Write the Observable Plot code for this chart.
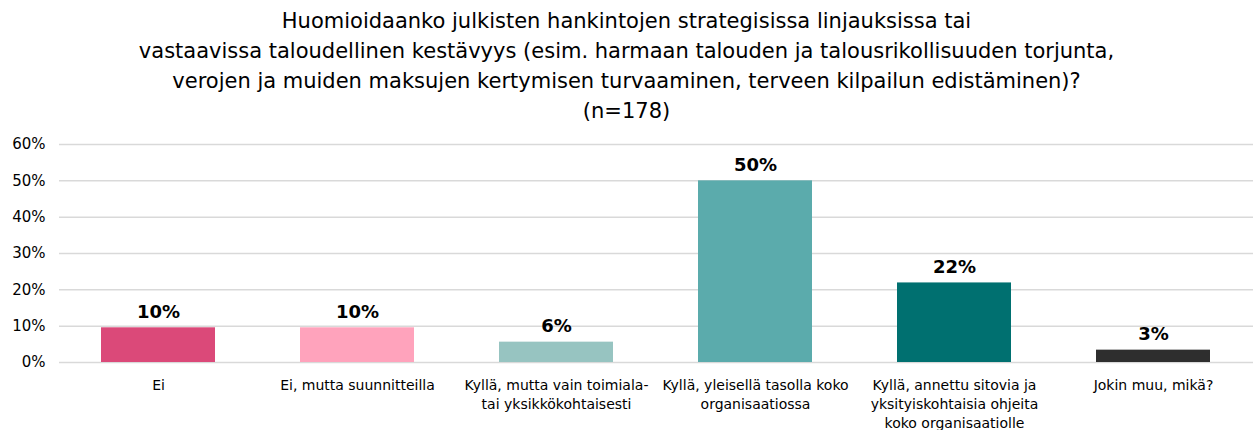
<!DOCTYPE html>
<html>
<head>
<meta charset="utf-8">
<script src="https://cdn.jsdelivr.net/npm/d3@7"></script>
<script src="https://cdn.jsdelivr.net/npm/@observablehq/plot@0.6"></script>
<style>
  body { margin: 0; background: #fff; font-family: "DejaVu Sans", sans-serif; }
  #title { text-align: center; font-size: 21px; line-height: 30px; padding-top: 6px; color: #000; width: 1253px; }
  #chart svg { display: block; }
</style>
</head>
<body>
<div id="title">Huomioidaanko julkisten hankintojen strategisissa linjauksissa tai<br>vastaavissa taloudellinen kestävyys (esim. harmaan talouden ja talousrikollisuuden torjunta,<br>verojen ja muiden maksujen kertymisen turvaaminen, terveen kilpailun edistäminen)?<br>(n=178)</div>
<div id="chart"></div>
<script>
const categories = [
  "Ei",
  "Ei, mutta suunnitteilla",
  "Kyllä, mutta vain toimiala- tai yksikkökohtaisesti",
  "Kyllä, yleisellä tasolla koko organisaatiossa",
  "Kyllä, annettu sitovia ja yksityiskohtaisia ohjeita koko organisaatiolle",
  "Jokin muu, mikä?"
];
const tickLabels = [
  "Ei",
  "Ei, mutta suunnitteilla",
  "Kyllä, mutta vain toimiala-\ntai yksikkökohtaisesti",
  "Kyllä, yleisellä tasolla koko\norganisaatiossa",
  "Kyllä, annettu sitovia ja\nyksityiskohtaisia ohjeita\nkoko organisaatiolle",
  "Jokin muu, mikä?"
];
const shares = [0.0955, 0.0955, 0.056, 0.50, 0.219, 0.034];
const colors = ["#DB4979", "#FFA3BC", "#97C4C1", "#5BABAC", "#007070", "#2E2E2E"];
const yTicks = [0, 0.1, 0.2, 0.3, 0.4, 0.5, 0.6];

const data = categories.map((c, i) => ({cat: c, value: shares[i], color: colors[i], label: tickLabels[i]}));
const pct = d3.format(".0%");

const chart = Plot.plot({
  width: 1253,
  height: 306,
  marginTop: 18,
  marginBottom: 70,
  marginLeft: 59,
  marginRight: 0,
  style: {fontFamily: '"DejaVu Sans", sans-serif', color: "#000"},
  x: {domain: categories, paddingInner: 0.426, paddingOuter: 0.213},
  y: {domain: [0, 0.6]},
  marks: [
    Plot.ruleY(yTicks, {stroke: "#d9d9d9", strokeWidth: 1.5}),
    Plot.barY(data, {x: "cat", y: "value", fill: "color"}),
    Plot.text(data, {x: "cat", y: "value", text: d => pct(d.value), dy: -10, lineAnchor: "bottom", fontWeight: "bold", fontSize: 18, fill: "#000"}),
    Plot.axisY({ticks: yTicks, tickFormat: d3.format(".0%"), tickSize: 0, tickPadding: 14, fontSize: 15, label: null}),
    Plot.axisX({tickSize: 0, tickPadding: 14, fontSize: 14, lineHeight: 1.35, tickFormat: d => tickLabels[categories.indexOf(d)], label: null, textOverflow: null})
  ]
});
document.getElementById("chart").append(chart);
</script>
</body>
</html>
